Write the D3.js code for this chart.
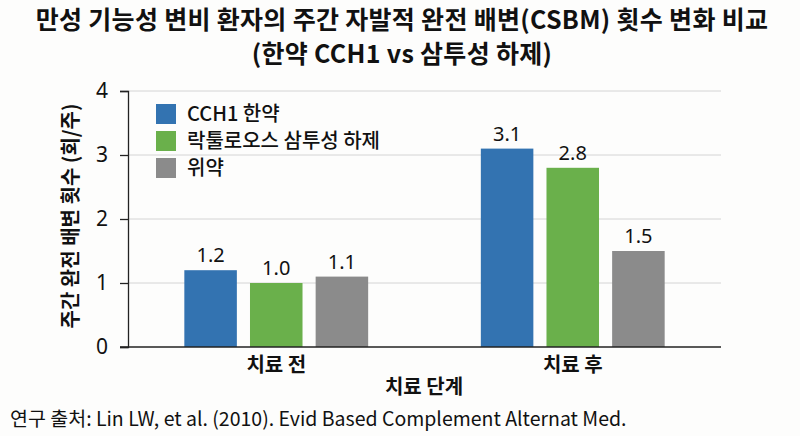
<!DOCTYPE html>
<html>
<head>
<meta charset="utf-8" />
<title>CSBM 횟수 변화 비교</title>
<style>
html, body {
  margin: 0;
  padding: 0;
  background-color: #fdfdfc;
}
svg text {
  font-family: "Noto Sans CJK KR", "Noto Sans", sans-serif;
  fill: #111;
}
</style>
</head>
<body>
<script src="https://d3js.org/d3.v7.min.js"></script>
<script>

  // ---------------------------------------------------------
  // Data
  const stages = ['치료 전', '치료 후']
  const seriesNames = ['CCH1 한약', '락툴로오스 삼투성 하제', '위약']
  const seriesColors = ['#3373b1', '#6ab04b', '#8b8b8b']
  const cch1 = [1.2, 3.1]
  const lactulose = [1.0, 2.8]
  const placebo = [1.1, 1.5]
  const yTicks = [0, 1, 2, 3, 4]
  const titleLines = ['만성 기능성 변비 환자의 주간 자발적 완전 배변(CSBM) 횟수 변화 비교', '(한약 CCH1 vs 삼투성 하제)']

  const values = [cch1, lactulose, placebo]

  // ---------------------------------------------------------
  const w = 800
  const h = 436
  const plotLeft = 128
  const plotRight = 721
  const plotTop = 91
  const plotBottom = 347

  const svg = d3.select('body').append('svg')
    .attr('width', w)
    .attr('height', h)

  const x0 = d3.scaleBand()
    .domain(stages)
    .range([plotLeft, plotRight])
    .paddingInner(0.38)
    .paddingOuter(0.19)

  const x1 = d3.scaleBand()
    .domain(d3.range(seriesNames.length))
    .range([0, x0.bandwidth()])
    .paddingInner(0.2)

  const y = d3.scaleLinear()
    .domain([0, 4])
    .range([plotBottom, plotTop])

  // gridlines
  svg.append('g')
    .selectAll('line')
    .data(yTicks.filter(d => d > 0))
    .enter().append('line')
    .attr('x1', plotLeft)
    .attr('x2', plotRight)
    .attr('y1', d => y(d))
    .attr('y2', d => y(d))
    .attr('stroke', '#d4d4d4')
    .attr('stroke-width', 1)

  // bars
  const groups = svg.append('g')
    .selectAll('g')
    .data(stages)
    .enter().append('g')
    .attr('transform', d => `translate(${x0(d)},0)`)

  groups.selectAll('rect')
    .data((d, i) => values.map((s, k) => ({ k: k, v: s[i] })))
    .enter().append('rect')
    .attr('x', d => x1(d.k))
    .attr('y', d => y(d.v))
    .attr('width', x1.bandwidth())
    .attr('height', d => y(0) - y(d.v))
    .attr('fill', d => seriesColors[d.k])

  groups.selectAll('text')
    .data((d, i) => values.map((s, k) => ({ k: k, v: s[i] })))
    .enter().append('text')
    .attr('x', d => x1(d.k) + x1.bandwidth() / 2)
    .attr('y', d => y(d.v) - 8)
    .attr('text-anchor', 'middle')
    .style('font-family', '"Noto Sans", sans-serif')
    .style('font-size', '20px')
    .text(d => d.v.toFixed(1))

  // y axis
  const yAxis = svg.append('g')
    .attr('transform', `translate(${plotLeft},0)`)
    .call(d3.axisLeft(y).tickValues(yTicks).tickSize(8).tickPadding(12).tickFormat(d3.format('d')))
  yAxis.select('.domain').attr('stroke', '#222').attr('stroke-width', 1.3)
  yAxis.selectAll('.tick line').attr('stroke', '#222').attr('stroke-width', 1.3)
  yAxis.selectAll('.tick text')
    .style('font-family', '"Noto Sans", sans-serif')
    .style('font-size', '21px')
    .attr('fill', '#111')

  // x axis
  const xAxis = svg.append('g')
    .attr('transform', `translate(0,${plotBottom})`)
    .call(d3.axisBottom(x0).tickSize(0).tickPadding(11))
  xAxis.select('.domain').remove()
  xAxis.selectAll('.tick text')
    .style('font-size', '20px')
    .style('font-weight', 'bold')
    .attr('fill', '#111')
  svg.append('line')
    .attr('x1', plotLeft - 8)
    .attr('x2', plotRight)
    .attr('y1', plotBottom)
    .attr('y2', plotBottom)
    .attr('stroke', '#222')
    .attr('stroke-width', 1.5)

  // axis titles
  svg.append('text')
    .attr('transform', `translate(71,${(plotTop + plotBottom) / 2 - 3}) rotate(-90)`)
    .attr('text-anchor', 'middle')
    .attr('dy', '0.35em')
    .style('font-size', '20px')
    .style('font-weight', 'bold')
    .text('주간 완전 배변 횟수 (회/주)')

  svg.append('text')
    .attr('x', 424)
    .attr('y', 394)
    .attr('text-anchor', 'middle')
    .style('font-size', '20px')
    .style('font-weight', 'bold')
    .text('치료 단계')

  // legend
  const legend = svg.append('g')
    .attr('transform', 'translate(156,104)')
  const items = legend.selectAll('g')
    .data(seriesNames)
    .enter().append('g')
    .attr('transform', (d, i) => `translate(0,${i * 27})`)
  items.append('rect')
    .attr('width', 20)
    .attr('height', 20)
    .attr('fill', (d, i) => seriesColors[i])
  items.append('text')
    .attr('x', 31)
    .attr('y', 10)
    .attr('dy', '0.36em')
    .style('font-size', '20px')
    .style('font-weight', '500')
    .text(d => d)

  // title (two lines)
  svg.append('text')
    .attr('text-anchor', 'middle')
    .style('font-size', '25px')
    .style('font-weight', 'bold')
    .style('letter-spacing', '0.3px')
    .selectAll('tspan')
    .data(titleLines)
    .enter().append('tspan')
    .attr('x', 402)
    .attr('y', (d, i) => 29 + i * 34)
    .text(d => d)

  // source
  svg.append('text')
    .attr('x', 10)
    .attr('y', 426)
    .style('font-size', '19.5px')
    .text('연구 출처: Lin LW, et al. (2010). Evid Based Complement Alternat Med.')

</script>
</body>
</html>
